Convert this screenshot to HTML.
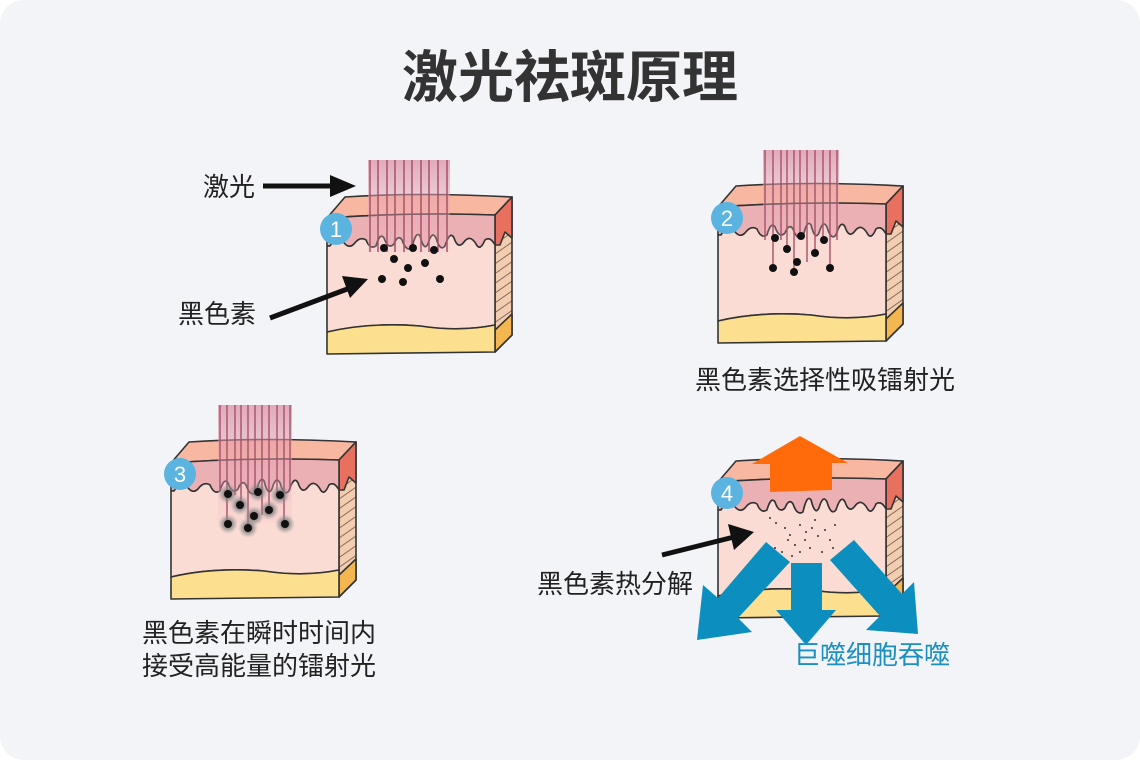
<!DOCTYPE html>
<html><head><meta charset="utf-8"><style>
html,body{margin:0;padding:0;background:#fff;}
.card{position:absolute;left:0;top:0;width:1140px;height:760px;background:#f3f4f8;border-radius:24px;overflow:hidden;}
svg{position:absolute;left:0;top:0;}
text{font-family:"Liberation Sans","Noto Sans CJK SC",sans-serif;}
</style></head><body><div class="card">
<svg width="1140" height="760" viewBox="0 0 1140 760">
<defs>
<linearGradient id="lz" x1="0" y1="0" x2="0" y2="1"><stop offset="0" stop-color="#d98aa0" stop-opacity="0.7"/><stop offset="1" stop-color="#f0c0c8" stop-opacity="0.2"/></linearGradient>
<pattern id="hatch" width="8" height="8" patternUnits="userSpaceOnUse" patternTransform="rotate(-35)"><rect width="8" height="8" fill="#f2cdb0"/><line x1="0" y1="4" x2="8" y2="4" stroke="#8a6a5a" stroke-width="1"/></pattern>
<radialGradient id="halo"><stop offset="0.4" stop-color="#777" stop-opacity="0.8"/><stop offset="1" stop-color="#999" stop-opacity="0"/></radialGradient>
<g id="skin" stroke="#333" stroke-width="1.6" stroke-linejoin="round">
<path d="M327,218 L345,197 Q420,192 512,197 L495,215 Q410,212 327,218 Z" fill="#f8b7a0"/>
<path d="M495,215 L512,197 L512,335 L495,352 Z" fill="url(#hatch)"/>
<path d="M495,215 L512,197 L512,238 L505,232 L500,245 L495,245 Z" fill="#e8705f"/>
<path d="M495,330 L512,314 L512,335 L495,352 Z" fill="#f4b64f"/>
<path d="M327,218 Q410,212 495,215 L495,245 Q490,236 485,240 Q480,252 476,244 Q470,234 464,242 Q458,250 454,238 Q450,230 445,246 Q440,252 436,238 Q432,230 428,244 Q424,252 420,236 Q416,230 412,248 Q406,252 402,240 Q398,234 394,244 Q388,250 384,238 Q380,232 376,246 Q370,250 366,240 Q360,236 354,244 Q348,250 342,240 Q336,236 330,246 L327,246 Z" fill="#ebb0b4"/>
<path d="M327,246 L330,246 Q336,236 342,240 Q348,250 354,244 Q360,236 366,240 Q370,250 376,246 Q380,232 384,238 Q388,250 394,244 Q398,234 402,240 Q406,252 412,248 Q416,230 420,236 Q424,252 428,244 Q432,230 436,238 Q440,252 445,246 Q450,230 454,238 Q458,250 464,242 Q470,234 476,244 Q480,252 485,240 Q490,236 495,245 L495,325 Q460,332 420,326 Q370,322 327,332 Z" fill="#fbdcd4"/>
<path d="M327,332 Q370,322 420,326 Q460,332 495,325 L495,352 L327,354 Z" fill="#fde08f"/>
</g>
</defs>

<text x="570" y="97" text-anchor="middle" font-size="56" font-weight="bold" fill="#333">激光祛斑原理</text>

<!-- Panel 1 -->
<use href="#skin"/>
<rect x="368" y="160" width="82" height="92" fill="url(#lz)"/>
<g stroke="#a8506a" stroke-width="1.5">
<line x1="370" y1="160" x2="370" y2="252"/><line x1="378" y1="160" x2="378" y2="252"/><line x1="387" y1="160" x2="387" y2="252"/><line x1="395" y1="160" x2="395" y2="252"/><line x1="404" y1="160" x2="404" y2="252"/><line x1="412" y1="160" x2="412" y2="252"/><line x1="421" y1="160" x2="421" y2="252"/><line x1="429" y1="160" x2="429" y2="252"/><line x1="438" y1="160" x2="438" y2="252"/><line x1="447" y1="160" x2="447" y2="252"/>
</g>
<g fill="#111"><circle cx="384" cy="248" r="4"/><circle cx="413" cy="248" r="4"/><circle cx="434" cy="250" r="4"/><circle cx="394" cy="259" r="4"/><circle cx="425" cy="263" r="4"/><circle cx="408" cy="268" r="4"/><circle cx="382" cy="279" r="4"/><circle cx="403" cy="282" r="4"/><circle cx="440" cy="279" r="4"/></g>
<circle cx="336" cy="229" r="16" fill="#5bb3e0"/><text x="336" y="237" text-anchor="middle" font-size="22" fill="#fff">1</text>
<line x1="263" y1="186" x2="335" y2="186" stroke="#111" stroke-width="5"/><polygon points="330,175 356,186 330,197" fill="#111"/>
<line x1="270" y1="318" x2="350" y2="288" stroke="#111" stroke-width="5"/><polygon points="342,276 368,279 350,298" fill="#111"/>
<text x="203" y="196" font-size="26" fill="#222">激光</text>
<text x="178" y="323" font-size="26" fill="#222">黑色素</text>

<!-- Panel 2 -->
<use href="#skin" transform="translate(391,-11)"/>
<rect x="763" y="150" width="76" height="90" fill="url(#lz)"/>
<g stroke="#a8506a" stroke-width="1.4">
<line x1="765" y1="150" x2="765" y2="240"/><line x1="773" y1="150" x2="773" y2="268"/><line x1="781" y1="150" x2="781" y2="240"/><line x1="787" y1="150" x2="787" y2="249"/><line x1="794" y1="150" x2="794" y2="272"/><line x1="800" y1="150" x2="800" y2="236"/><line x1="807" y1="150" x2="807" y2="262"/><line x1="815" y1="150" x2="815" y2="252"/><line x1="823" y1="150" x2="823" y2="240"/><line x1="830" y1="150" x2="830" y2="268"/><line x1="837" y1="150" x2="837" y2="240"/>
</g>
<g fill="#111"><circle cx="775" cy="238" r="4"/><circle cx="801" cy="236" r="4"/><circle cx="824" cy="240" r="4"/><circle cx="787" cy="249" r="4"/><circle cx="815" cy="253" r="4"/><circle cx="797" cy="262" r="4"/><circle cx="773" cy="268" r="4"/><circle cx="794" cy="272" r="4"/><circle cx="830" cy="268" r="4"/></g>
<circle cx="727" cy="218" r="16" fill="#5bb3e0"/><text x="727" y="226" text-anchor="middle" font-size="22" fill="#fff">2</text>
<text x="695" y="389" font-size="26" fill="#222">黑色素选择性吸镭射光</text>

<!-- Panel 3 -->
<use href="#skin" transform="translate(-156,245)"/>
<rect x="218" y="405" width="74" height="118" fill="url(#lz)"/>
<g stroke="#a8506a" stroke-width="1.4">
<line x1="220" y1="405" x2="220" y2="490"/><line x1="227" y1="405" x2="227" y2="525"/><line x1="235" y1="405" x2="235" y2="495"/><line x1="241" y1="405" x2="241" y2="505"/><line x1="248" y1="405" x2="248" y2="528"/><line x1="255" y1="405" x2="255" y2="490"/><line x1="262" y1="405" x2="262" y2="515"/><line x1="269" y1="405" x2="269" y2="510"/><line x1="277" y1="405" x2="277" y2="495"/><line x1="284" y1="405" x2="284" y2="524"/><line x1="290" y1="405" x2="290" y2="490"/>
</g>
<g><circle cx="228" cy="494" r="10" fill="url(#halo)"/><circle cx="258" cy="492" r="10" fill="url(#halo)"/><circle cx="280" cy="495" r="10" fill="url(#halo)"/><circle cx="240" cy="505" r="10" fill="url(#halo)"/><circle cx="269" cy="510" r="10" fill="url(#halo)"/><circle cx="254" cy="516" r="10" fill="url(#halo)"/><circle cx="228" cy="524" r="10" fill="url(#halo)"/><circle cx="248" cy="528" r="10" fill="url(#halo)"/><circle cx="285" cy="524" r="10" fill="url(#halo)"/></g>
<g fill="#111"><circle cx="228" cy="494" r="4"/><circle cx="258" cy="492" r="4"/><circle cx="280" cy="495" r="4"/><circle cx="240" cy="505" r="4"/><circle cx="269" cy="510" r="4"/><circle cx="254" cy="516" r="4"/><circle cx="228" cy="524" r="4"/><circle cx="248" cy="528" r="4"/><circle cx="285" cy="524" r="4"/></g>
<circle cx="180" cy="474" r="16" fill="#5bb3e0"/><text x="180" y="482" text-anchor="middle" font-size="22" fill="#fff">3</text>
<text x="142" y="642" font-size="26" fill="#222">黑色素在瞬时时间内</text>
<text x="142" y="675" font-size="26" fill="#222">接受高能量的镭射光</text>

<!-- Panel 4 -->
<use href="#skin" transform="translate(391,264)"/>
<g fill="#333">
<circle cx="770" cy="518" r="1"/><circle cx="776" cy="523" r="1"/><circle cx="785" cy="528" r="1"/><circle cx="790" cy="535" r="1"/><circle cx="800" cy="525" r="1"/><circle cx="806" cy="532" r="1"/><circle cx="812" cy="528" r="1"/><circle cx="818" cy="536" r="1"/><circle cx="825" cy="530" r="1"/><circle cx="830" cy="540" r="1"/><circle cx="775" cy="548" r="1"/><circle cx="782" cy="552" r="1"/><circle cx="795" cy="545" r="1"/><circle cx="800" cy="552" r="1"/><circle cx="810" cy="548" r="1"/><circle cx="822" cy="552" r="1"/><circle cx="833" cy="548" r="1"/><circle cx="788" cy="540" r="1"/><circle cx="815" cy="520" r="1"/><circle cx="835" cy="525" r="1"/><circle cx="805" cy="540" r="1"/><circle cx="792" cy="556" r="1"/>
</g>
<polygon points="770,492 832,490 832,463 848,463 800,436 752,464 770,464" fill="#ff6a0a"/>
<g fill="#0c8fbf">
<polygon points="766,542 790,562 738,618 752,632 697,640 703,585 718,598"/>
<polygon points="791,563 822,563 822,610 836,610 806,645 776,610 791,610"/>
<polygon points="830,560 854,540 902,594 914,582 918,634 866,630 880,616"/>
</g>
<circle cx="727" cy="493" r="16" fill="#5bb3e0"/><text x="727" y="501" text-anchor="middle" font-size="22" fill="#fff">4</text>
<line x1="662" y1="555" x2="734" y2="537" stroke="#111" stroke-width="5"/><polygon points="728,524 754,532 734,550" fill="#111"/>
<text x="537" y="593" font-size="26" fill="#222">黑色素热分解</text>
<text x="794" y="664" font-size="26" fill="#1a8fc0">巨噬细胞吞噬</text>
</svg>
</div></body></html>
